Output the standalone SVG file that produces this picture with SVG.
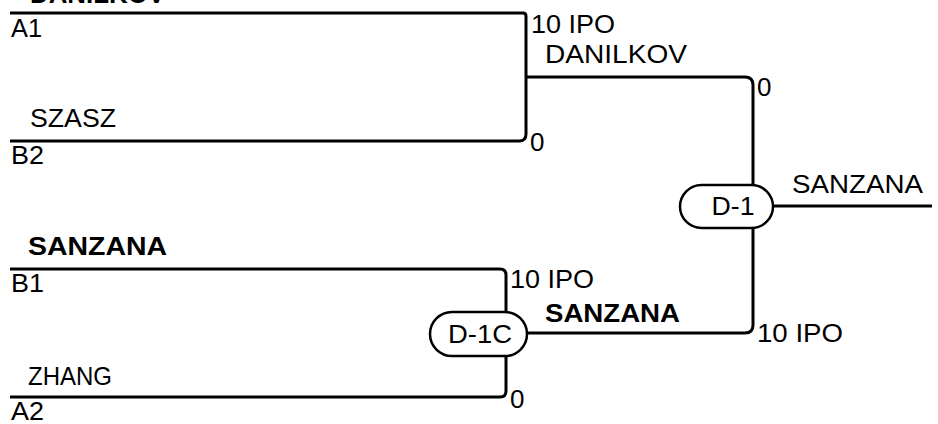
<svg xmlns="http://www.w3.org/2000/svg" width="938" height="424" viewBox="0 0 938 424">
<style>
text{font-family:"Liberation Sans",Arial,sans-serif;font-size:26px;fill:#000}
.b{font-weight:bold}
.m{text-anchor:middle}
.ln{fill:none;stroke:#000;stroke-width:3}
.pill{fill:#fff;stroke:#000;stroke-width:2.5}
</style>
<rect width="938" height="424" fill="#fff"/>
<g id="connectors" class="ln">
<path d="M10,13 H523 Q526,13 526,16 V134 Q526,141 519,141 H10"/>
<path d="M526,77 H745 Q753,77 753,85 V325 Q753,333 745,333 H527"/>
<path d="M753,206 H932"/>
<path d="M10,269 H500 Q506,269 506,275 V391 Q506,397 500,397 H10"/>
</g>
<g id="slot-A1"><text x="11" y="37" textLength="31" lengthAdjust="spacingAndGlyphs">A1</text><text class="b" x="30" y="3" textLength="135" lengthAdjust="spacingAndGlyphs">DANILKOV</text></g>
<g id="slot-B2"><text x="30" y="127" textLength="86" lengthAdjust="spacingAndGlyphs">SZASZ</text><text x="11" y="164" textLength="33" lengthAdjust="spacingAndGlyphs">B2</text></g>
<g id="slot-B1"><text class="b" x="28" y="255" textLength="139" lengthAdjust="spacingAndGlyphs">SANZANA</text><text x="11" y="292" textLength="33" lengthAdjust="spacingAndGlyphs">B1</text></g>
<g id="slot-A2"><text x="28" y="385" textLength="84" lengthAdjust="spacingAndGlyphs">ZHANG</text><text x="11" y="420" textLength="33" lengthAdjust="spacingAndGlyphs">A2</text></g>
<g id="match-top"><text x="531" y="33" textLength="84" lengthAdjust="spacingAndGlyphs">10 IPO</text><text x="530" y="151">0</text><text x="545" y="63" textLength="142" lengthAdjust="spacingAndGlyphs">DANILKOV</text></g>
<g id="match-D-1C"><rect class="pill" x="430" y="312" width="97" height="44" rx="22"/><text class="m" x="480" y="343" textLength="64" lengthAdjust="spacingAndGlyphs">D-1C</text><text x="510" y="288" textLength="84" lengthAdjust="spacingAndGlyphs">10 IPO</text><text x="510" y="408">0</text><text class="b" x="545" y="322" textLength="135" lengthAdjust="spacingAndGlyphs">SANZANA</text></g>
<g id="match-D-1"><rect class="pill" x="680" y="185" width="93" height="43" rx="21.5"/><text class="m" x="733" y="215" textLength="43" lengthAdjust="spacingAndGlyphs">D-1</text><text x="757" y="96">0</text><text x="757" y="342" textLength="86" lengthAdjust="spacingAndGlyphs">10 IPO</text><text x="792" y="193" textLength="131" lengthAdjust="spacingAndGlyphs">SANZANA</text></g>
</svg>
